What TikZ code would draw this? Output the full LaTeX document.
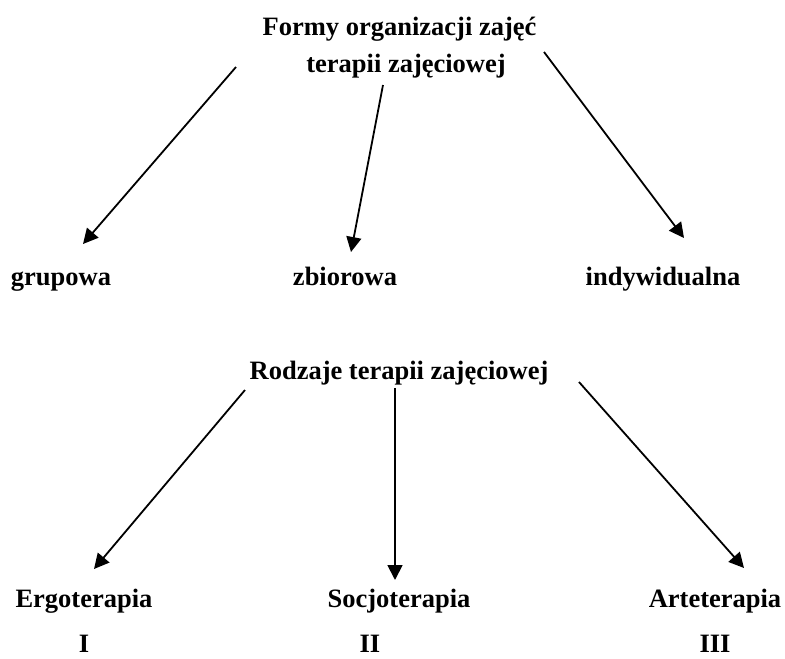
\documentclass[tikz,border=0pt]{standalone}
\usepackage{fontspec}
\setmainfont{Liberation Serif}
\usetikzlibrary{arrows.meta}
\begin{document}
\begin{tikzpicture}[x=1pt,y=-1pt,
  lbl/.style={font=\fontsize{26.5}{38}\selectfont\bfseries, anchor=base, inner sep=0pt},
  arr/.style={line width=1.8pt, -{Triangle[length=15pt,width=15pt]}}]
\useasboundingbox (0,0) rectangle (785,659);
% top part
\node[lbl] (t1) at (399.5,35) {Formy organizacji zajęć};
\node[lbl] (t2) at (406,72) {terapii zajęciowej};
\node[lbl] (grupowa) at (61,285) {grupowa};
\node[lbl] (zbiorowa) at (345,285) {zbiorowa};
\node[lbl] (indyw) at (663,285) {indywidualna};
\coordinate (a1s) at (236,67);  \coordinate (a1e) at (83,244);
\coordinate (a2s) at (383,85);  \coordinate (a2e) at (351,252);
\coordinate (a3s) at (544,52);  \coordinate (a3e) at (684,238);
\draw[arr] (a1s) -- (a1e);
\draw[arr] (a2s) -- (a2e);
\draw[arr] (a3s) -- (a3e);
% bottom part
\node[lbl] (rodzaje) at (399,379) {Rodzaje terapii zajęciowej};
\node[lbl] (ergo) at (84,607) {Ergoterapia};
\node[lbl] (socjo) at (399,607) {Socjoterapia};
\node[lbl] (arte) at (715,607) {Arteterapia};
\node[lbl] (n1) at (84,652.5) {I};
\node[lbl] (n2) at (370,652.5) {II};
\node[lbl] (n3) at (715,652.5) {III};
\coordinate (b1s) at (245,390); \coordinate (b1e) at (94,569);
\coordinate (b2s) at (395,388); \coordinate (b2e) at (395,580);
\coordinate (b3s) at (579,382); \coordinate (b3e) at (744,568);
\draw[arr] (b1s) -- (b1e);
\draw[arr] (b2s) -- (b2e);
\draw[arr] (b3s) -- (b3e);
\end{tikzpicture}
\end{document}
